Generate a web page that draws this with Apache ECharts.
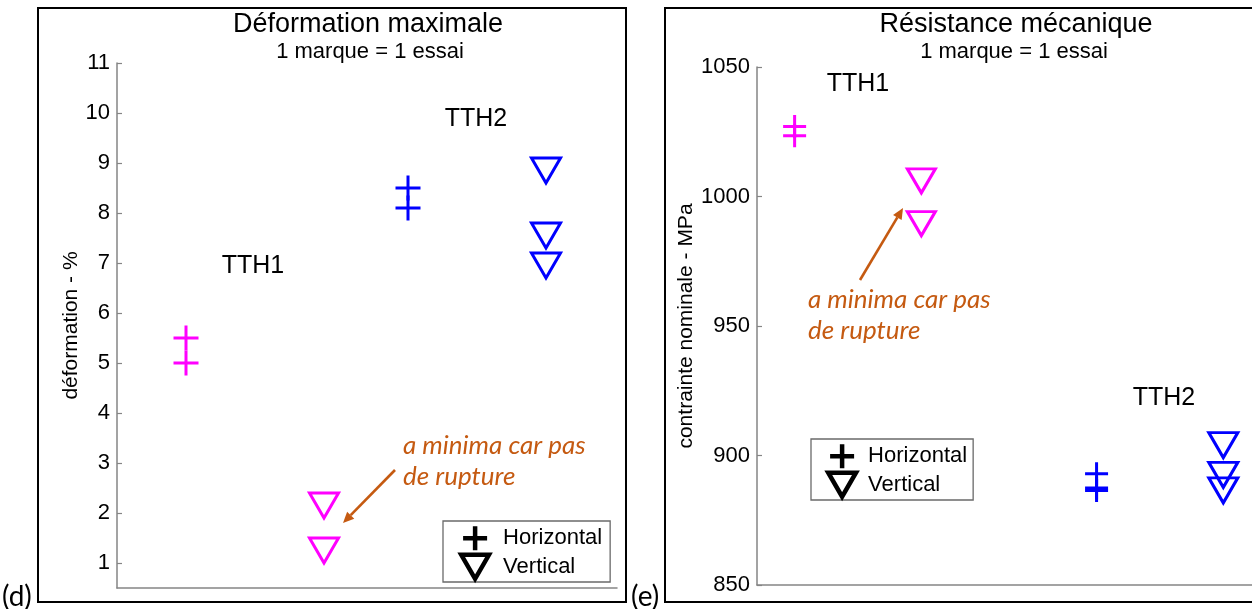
<!DOCTYPE html>
<html>
<head>
<meta charset="utf-8">
<script src="https://cdn.jsdelivr.net/npm/echarts@6/dist/echarts.min.js"></script>
<style>
  html, body { margin: 0; padding: 0; background: #fff; }
  #main { width: 1252px; height: 609px; }
</style>
</head>
<body>
<div id="main"></div>
<script>
// ---- Déformation maximale (%), one mark per test ----
// horizontal positions of the four groups: TTH1 H, TTH1 V, TTH2 H, TTH2 V
const defX = [1.38, 4.14, 5.82, 8.58];
const defTTH1H = [5.5, 5.0];
const defTTH1V = [2.15, 1.25];
const defTTH2H = [8.5, 8.1];
const defTTH2V = [8.85, 7.55, 6.95];
const defTicks = [1, 2, 3, 4, 5, 6, 7, 8, 9, 10, 11];

// ---- Résistance mécanique (MPa), one mark per test ----
const resX = [0.76, 3.32, 6.86, 9.42];
const resTTH1H = [1027, 1023.5];
const resTTH1V = [1006, 989.5];
const resTTH2H = [893, 887.5, 886.5];
const resTTH2V = [904, 892.5, 886.5];

const MAGENTA = '#ff00ff';
const BLUE = '#0000ff';
const NOTE = '#c55a11';
const AXIS = '#858585';
const SANS = 'Liberation Sans, Arial, sans-serif';
const NOTE_FONT = 'Lato, Open Sans, sans-serif';

const PLUS = 'path://M0,5L10,5M5,0L5,10';
const TRI = 'path://M0,0L10,0L5,8.66Z';
const CLEAR = 'rgba(0,0,0,0)';

function marks(name, x, ys, color, symbol, size, idx) {
  return {
    type: 'scatter', name: name,
    xAxisIndex: idx, yAxisIndex: idx,
    symbol: symbol, symbolSize: size,
    itemStyle: { color: CLEAR, borderColor: color, borderWidth: 3, opacity: 1 },
    emphasis: { disabled: true },
    silent: true, z: 3,
    data: ys.map(function (v) { return [x, v]; })
  };
}

function legendBox(left, top, padL, iconW, padR) {
  return {
    left: left, top: top, orient: 'vertical',
    padding: [3, padR, 1, padL],
    itemWidth: iconW, itemHeight: 24, itemGap: 0,
    borderColor: '#6a6a6a', borderWidth: 1.3, backgroundColor: '#fff',
    selectedMode: false,
    textStyle: { fontFamily: SANS, fontSize: 22, lineHeight: 24, color: '#000' },
    data: [
      { name: 'Horizontal', icon: PLUS, itemStyle: { color: CLEAR, borderColor: '#000', borderWidth: 4.5 } },
      { name: 'Vertical', icon: TRI, itemStyle: { color: CLEAR, borderColor: '#000', borderWidth: 4.5 } }
    ]
  };
}

const tickLabel = { fontFamily: SANS, fontSize: 22, color: '#000', margin: 7 };

function yAxisCfg(idx, min, max, extra) {
  return Object.assign({
    type: 'value', gridIndex: idx, min: min, max: max,
    nameLocation: 'middle',
    nameTextStyle: { fontFamily: SANS, fontSize: 21, color: '#000' },
    axisLine: { show: true, lineStyle: { color: AXIS, width: 1.5 } },
    axisTick: { show: true, inside: true, length: 5, lineStyle: { color: AXIS, width: 1.2 } },
    axisLabel: Object.assign({ formatter: function (v) { return String(v); } }, tickLabel),
    splitLine: { show: false }
  }, extra);
}

function xAxisCfg(idx) {
  return {
    type: 'value', gridIndex: idx, min: 0, max: 10,
    axisLine: { show: true, onZero: false, lineStyle: { color: AXIS, width: 1.5 } },
    axisTick: { show: false }, axisLabel: { show: false }, splitLine: { show: false }
  };
}

function text(x, y, str, size, opts) {
  return {
    type: 'text', x: x, y: y, silent: true, z: 10,
    style: Object.assign({
      text: str, fontFamily: SANS, fontSize: size, fill: '#000',
      align: 'center', verticalAlign: 'middle'
    }, opts || {})
  };
}

function arrow(x1, y1, x2, y2) {
  const a = Math.atan2(y2 - y1, x2 - x1);
  const L = 11, W = 5;
  const bx = x2 - L * Math.cos(a), by = y2 - L * Math.sin(a);
  const px = -Math.sin(a) * W, py = Math.cos(a) * W;
  return [
    { type: 'line', silent: true, z: 10,
      shape: { x1: x1, y1: y1, x2: bx, y2: by },
      style: { stroke: NOTE, lineWidth: 2.6 } },
    { type: 'polygon', silent: true, z: 10,
      shape: { points: [[x2, y2], [bx + px, by + py], [bx - px, by - py]] },
      style: { fill: NOTE } }
  ];
}

const noteStyle = { fontFamily: NOTE_FONT, fontStyle: 'italic', fill: NOTE, align: 'left' };

const chart = echarts.init(document.getElementById('main'), null, { renderer: 'canvas' });

chart.setOption({
  animation: false,
  backgroundColor: '#fff',
  grid: [
    { left: 117, top: 63, width: 500, height: 525 },
    { left: 757, top: 67, width: 500, height: 518 }
  ],
  xAxis: [xAxisCfg(0), xAxisCfg(1)],
  yAxis: [
    yAxisCfg(0, 0.5, 11, {
      name: 'déformation - %', nameGap: 35,
      axisTick: { show: true, inside: true, length: 5, customValues: defTicks, lineStyle: { color: AXIS, width: 1.2 } },
      axisLabel: Object.assign({ customValues: defTicks }, tickLabel)
    }),
    yAxisCfg(1, 850, 1050, { name: 'contrainte nominale - MPa', nameGap: 60, interval: 50 })
  ],
  legend: [
    legendBox(443, 521, 16, 46, 8),
    legendBox(811, 439, 15, 42, 6)
  ],
  series: [
    marks('Horizontal', defX[0], defTTH1H, MAGENTA, PLUS, 25, 0),
    marks('Vertical', defX[1], defTTH1V, MAGENTA, TRI, [29, 25], 0),
    marks('Horizontal', defX[2], defTTH2H, BLUE, PLUS, 25, 0),
    marks('Vertical', defX[3], defTTH2V, BLUE, TRI, [29, 25], 0),
    marks('Horizontal', resX[0], resTTH1H, MAGENTA, PLUS, 23, 1),
    marks('Vertical', resX[1], resTTH1V, MAGENTA, TRI, [28, 24], 1),
    marks('Horizontal', resX[2], resTTH2H, BLUE, PLUS, 23, 1),
    marks('Vertical', resX[3], resTTH2V, BLUE, TRI, [29, 25], 1)
  ],
  graphic: [
    // panel frames
    { type: 'rect', silent: true, z: 0, shape: { x: 38, y: 8, width: 588, height: 594 },
      style: { fill: 'none', stroke: '#000', lineWidth: 2 } },
    { type: 'rect', silent: true, z: 0, shape: { x: 665, y: 8, width: 600, height: 594 },
      style: { fill: 'none', stroke: '#000', lineWidth: 2 } },

    // panel letters
    text(2, 597, '(d)', 28, { fontFamily: NOTE_FONT, align: 'left' }),
    text(631, 597, '(e)', 28, { fontFamily: NOTE_FONT, align: 'left' }),

    // titles
    text(368, 25, 'Déformation maximale', 27),
    text(370, 52, '1 marque = 1 essai', 22),
    text(1016, 25, 'Résistance mécanique', 27),
    text(1014, 52, '1 marque = 1 essai', 22),

    // group labels
    text(253, 266, 'TTH1', 25),
    text(476, 119, 'TTH2', 25),
    text(858, 84, 'TTH1', 25),
    text(1164, 398, 'TTH2', 25),

    // notes
    text(403, 446, 'a minima car pas', 26, noteStyle),
    text(403, 477, 'de rupture', 26, noteStyle),
    text(808, 300, 'a minima car pas', 26, noteStyle),
    text(808, 331, 'de rupture', 26, noteStyle)
  ].concat(arrow(395, 470, 343, 523), arrow(860, 280, 903, 208))
});
</script>
</body>
</html>
